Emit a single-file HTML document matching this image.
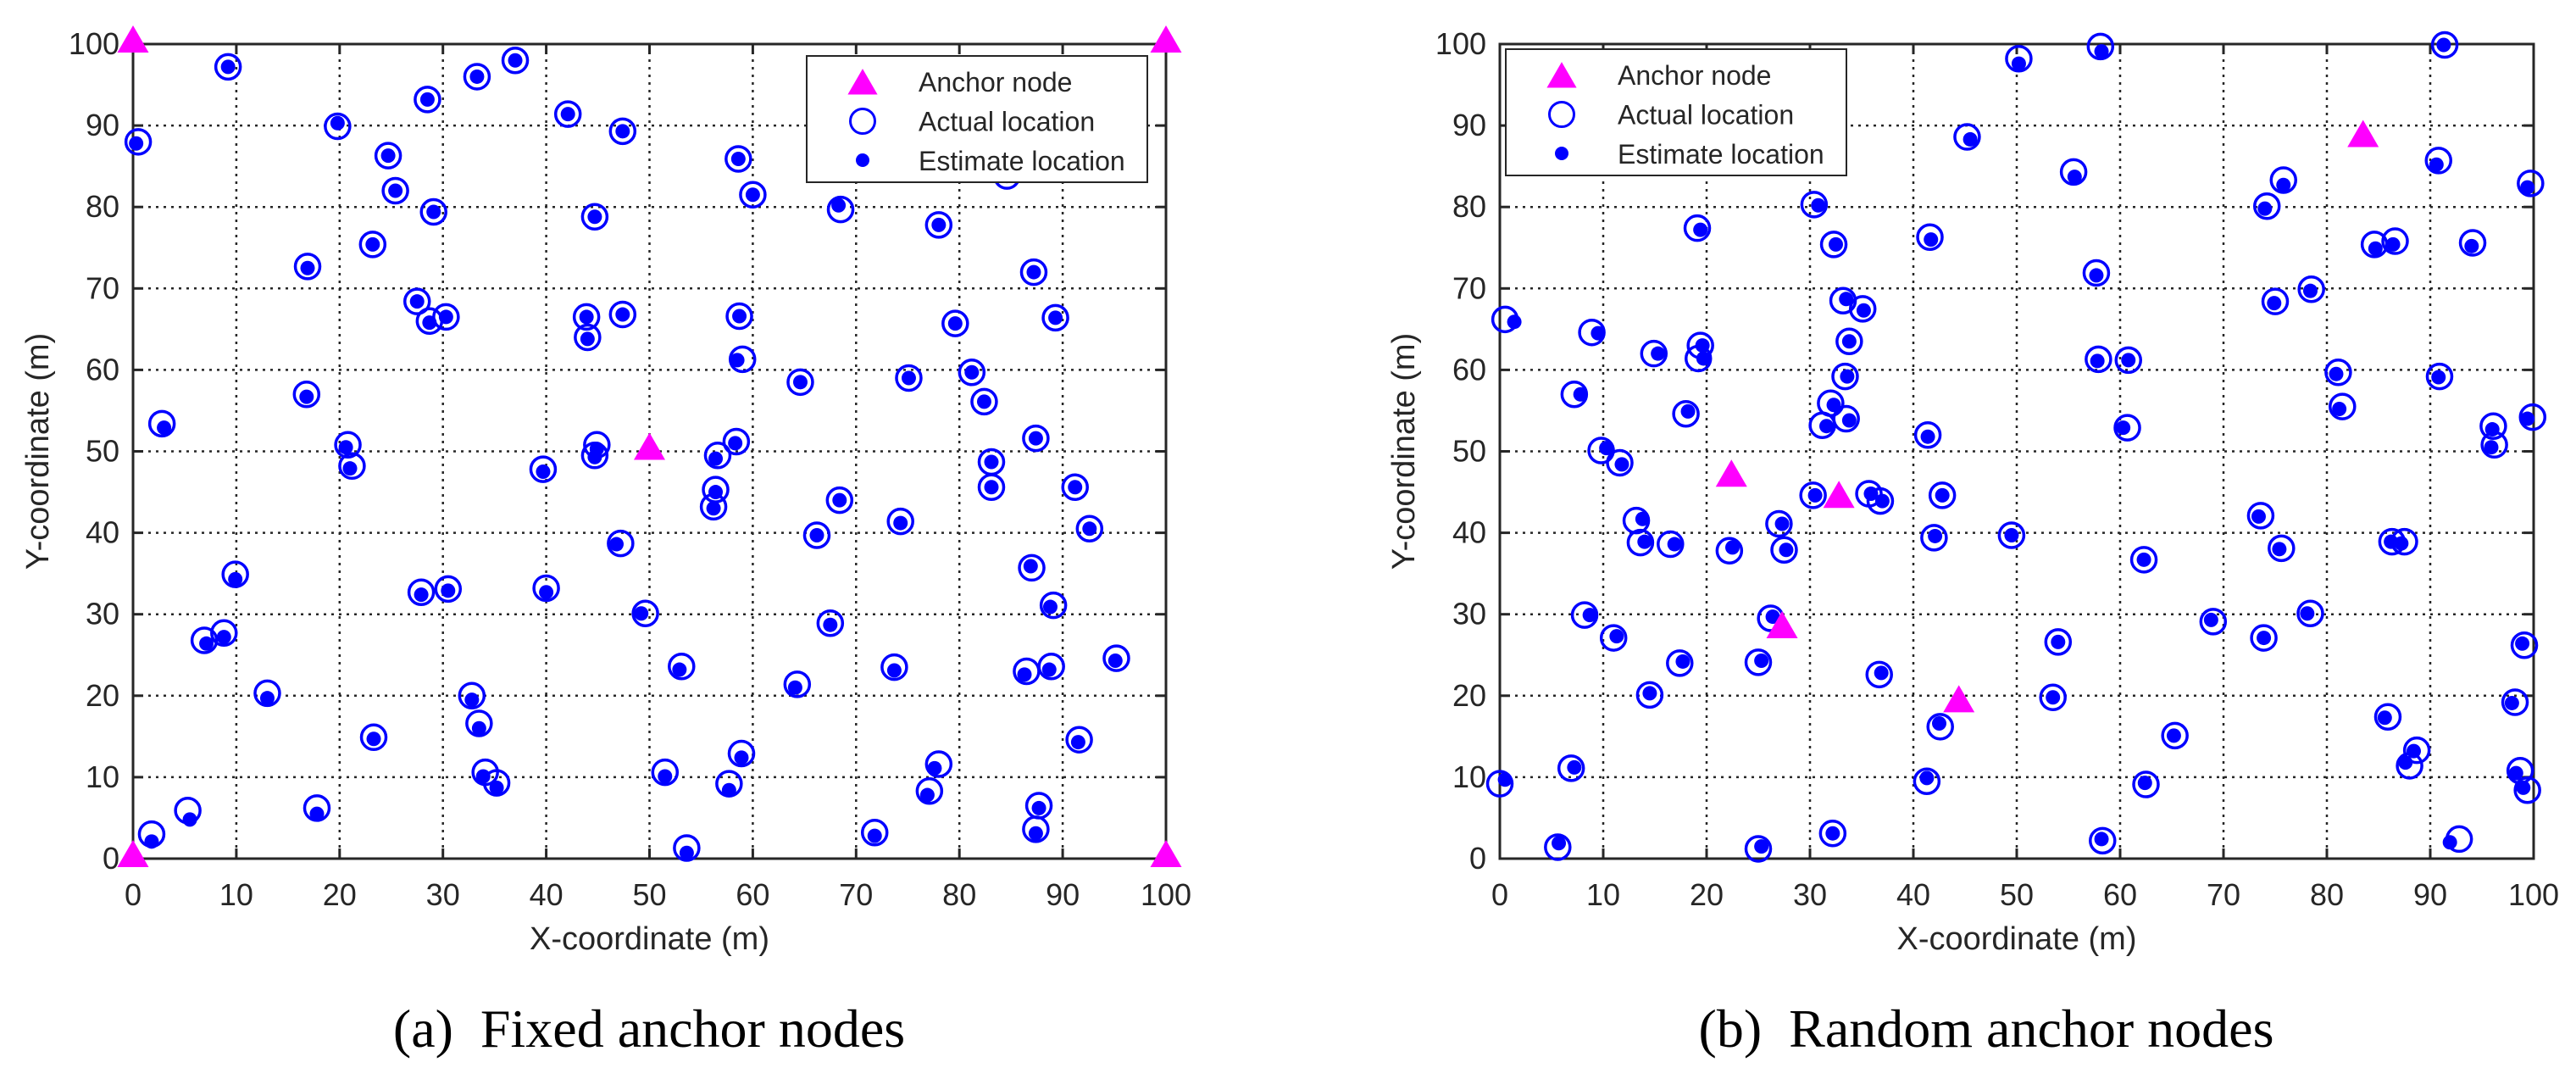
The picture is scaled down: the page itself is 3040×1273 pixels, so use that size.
<!DOCTYPE html>
<html><head><meta charset="utf-8"><style>
html,body{margin:0;padding:0;background:#fff;}
svg{display:block;}
text{font-family:"Liberation Sans",sans-serif;fill:#262626;}
.cap{font-family:"Liberation Serif",serif;fill:#000;}
</style></head><body>
<svg id="fig" width="3040" height="1273" viewBox="0 0 3040 1273" xmlns="http://www.w3.org/2000/svg"></svg>
<script>
// Panel (a) data
const aActualX=[0.5,9.2,19.8,24.7,25.4,23.2,16.9,28.5,33.3,37.0,42.1,47.4,29.1,44.7,27.5,28.7,30.3,43.9,44.0,47.4,16.8,2.8,20.8,21.2,44.9,44.7,39.7,58.6,60.0,68.5,78.0,87.2,89.3,79.6,58.7,59.0,64.6,75.1,81.2,82.4,87.4,83.1,83.1,91.2,92.6,56.6,58.4,56.4,56.2,68.4,66.2,74.3,47.2,9.9,27.9,30.5,40.0,49.6,67.5,87.0,89.1,8.8,6.9,13.0,23.3,32.8,33.5,34.1,35.2,17.8,5.3,1.8,53.1,64.3,51.5,58.9,57.7,53.6,71.8,73.7,78.0,77.1,86.5,88.9,87.7,87.4,91.6,95.2,84.6];
const aActualY=[88.0,97.2,89.9,86.3,82.0,75.4,72.7,93.2,96.0,98.0,91.4,89.3,79.4,78.8,68.4,66.0,66.5,66.5,64.0,66.8,57.0,53.4,50.8,48.2,50.8,49.5,47.8,85.9,81.5,79.7,77.8,72.0,66.4,65.7,66.6,61.3,58.5,59.0,59.7,56.1,51.6,48.7,45.6,45.6,40.5,49.5,51.2,45.3,43.2,44.0,39.7,41.4,38.7,34.9,32.7,33.1,33.2,30.1,28.9,35.7,31.1,27.7,26.8,20.3,14.9,20.0,16.6,10.6,9.3,6.2,5.9,3.0,23.6,21.4,10.6,12.9,9.2,1.3,3.2,23.5,11.6,8.3,23.0,23.6,6.5,3.6,14.6,24.6,83.8];
const aEstX=[0.3,9.2,19.8,24.7,25.4,23.2,16.9,28.5,33.3,37.0,42.1,47.4,29.1,44.7,27.5,28.7,30.3,43.9,44.0,47.4,16.8,3.0,20.6,21.0,44.9,44.7,39.7,58.6,60.0,68.3,78.0,87.2,89.3,79.6,58.7,58.5,64.6,75.1,81.2,82.4,87.4,83.1,83.1,91.2,92.6,56.4,58.3,56.4,56.2,68.4,66.2,74.3,46.8,9.9,27.9,30.5,40.0,49.2,67.5,86.9,88.8,8.8,7.1,13.0,23.3,32.8,33.5,33.9,35.2,17.8,5.5,1.8,52.9,64.1,51.5,58.9,57.7,53.6,71.8,73.7,77.6,76.9,86.3,88.7,87.7,87.4,91.5,95.1,84.6];
const aEstY=[87.8,97.2,90.3,86.3,82.0,75.4,72.5,93.2,96.0,98.0,91.4,89.3,79.4,78.8,68.4,65.8,66.5,66.5,63.8,66.8,56.7,52.9,50.5,47.9,50.3,49.3,47.5,85.9,81.5,80.2,77.8,72.0,66.4,65.7,66.6,61.2,58.5,59.0,59.7,56.1,51.6,48.7,45.6,45.6,40.5,49.1,51.0,45.0,43.0,44.0,39.7,41.2,38.6,34.3,32.4,32.9,32.7,30.1,28.7,35.9,30.9,27.2,26.4,19.7,14.7,19.5,16.0,10.1,8.7,5.5,4.8,2.1,23.2,21.0,10.1,12.4,8.4,0.7,2.8,23.1,11.1,7.8,22.6,23.2,6.2,3.1,14.3,24.3,83.8];
const aAnchorX=[0,100,0,100,50];
const aAnchorY=[100,100,0,0,50];
// Panel (b) data
const bActualX=[0.5,8.9,7.2,9.8,11.6,14.9,19.1,19.4,19.2,18.0,13.2,13.6,16.5,22.2,27.0,27.5,8.2,11.0,17.4,14.5,26.2,25.0,36.7,6.9,0.0,5.6,25.0,32.2,30.4,32.3,33.2,35.1,33.8,33.4,32.0,31.2,33.5,30.3,35.7,36.8,41.4,41.6,45.2,50.2,58.1,55.5,57.7,57.9,60.8,60.7,42.8,42.0,49.5,62.3,41.3,42.6,54.0,53.5,65.3,62.5,58.3,69.0,73.9,73.6,75.6,78.4,78.5,75.0,74.2,75.8,81.1,81.5,84.6,86.6,94.1,90.8,91.4,99.7,90.9,96.1,96.2,99.9,86.3,87.5,85.9,88.7,88.0,92.8,98.2,99.1,98.7,99.4];
const bActualY=[66.2,64.6,57.0,50.1,48.6,62.0,77.4,63.0,61.4,54.6,41.5,38.8,38.6,37.8,41.1,37.9,29.9,27.1,24.0,20.1,29.5,24.1,22.6,11.1,9.2,1.4,1.2,3.1,80.3,75.4,68.5,67.5,63.5,59.2,55.9,53.2,54.0,44.6,44.8,43.9,52.0,76.3,88.6,98.2,99.7,84.3,71.9,61.3,61.2,52.9,44.6,39.4,39.7,36.7,9.5,16.2,26.6,19.8,15.1,9.1,2.2,29.1,27.1,42.1,38.1,30.1,69.9,68.4,80.1,83.3,59.7,55.5,75.4,75.8,75.6,85.7,99.9,82.9,59.2,53.1,50.8,54.2,38.9,38.9,17.4,13.3,11.4,2.4,19.2,26.2,10.8,8.4];
const bEstX=[1.4,9.5,7.8,10.3,11.8,15.3,19.4,19.6,19.7,18.2,13.8,14.0,16.9,22.5,27.3,27.7,8.7,11.3,17.7,14.5,26.4,25.3,36.9,7.2,0.5,5.7,25.3,32.2,30.8,32.5,33.5,35.2,33.8,33.6,32.3,31.6,33.8,30.5,35.9,37.0,41.4,41.7,45.5,50.2,58.2,55.6,57.7,57.8,60.8,60.3,42.8,42.1,49.5,62.3,41.3,42.5,54.0,53.5,65.2,62.4,58.2,68.8,73.9,73.4,75.4,78.1,78.4,74.9,74.0,75.8,80.9,81.2,84.7,86.4,94.0,90.6,91.3,99.4,90.8,96.0,95.9,99.4,86.2,87.2,85.6,88.4,87.6,91.9,97.9,98.9,98.3,99.0];
const bEstY=[65.9,64.5,57.0,50.4,48.4,62.0,77.2,63.0,61.4,54.9,41.7,38.9,38.6,38.2,41.1,37.9,29.9,27.3,24.2,20.3,29.7,24.3,22.8,11.2,9.7,1.9,1.5,3.1,80.2,75.4,68.7,67.3,63.5,59.2,55.7,53.1,53.8,44.6,44.8,43.9,51.8,76.0,88.3,97.6,99.1,83.7,71.6,61.1,61.2,52.9,44.6,39.6,39.7,36.7,9.9,16.6,26.6,19.8,15.1,9.3,2.4,29.3,27.1,42.0,38.0,30.1,69.7,68.2,79.8,82.7,59.5,55.2,74.9,75.4,75.2,85.2,99.9,82.4,59.1,52.7,50.5,54.0,38.9,38.7,17.3,13.2,11.8,2.0,19.1,26.4,10.5,8.7];
const bAnchorX=[22.4,32.8,27.3,44.4,83.5];
const bAnchorY=[46.7,44.1,28.1,19.0,88.4];
const ticks=[0,10,20,30,40,50,60,70,80,90,100];

const NS='http://www.w3.org/2000/svg';
const svg=document.getElementById('fig');
function mk(tag,attrs,parent){const e=document.createElementNS(NS,tag);for(const k in attrs)e.setAttribute(k,attrs[k]);(parent||svg).appendChild(e);return e;}
function tri(g,cx,cy,s){return mk('polygon',{points:`${cx},${cy-22*s} ${cx-18.5*s},${cy+10*s} ${cx+18.5*s},${cy+10*s}`,fill:'#ff00ff'},g);}

function panel(id,L,R,T,B,AX,AY,EX,EY,NX,NY,leg,cap,capX,ylabX){
  const g=mk('g',{});
  
  
  const sx=v=>L+(R-L)*v/100, sy=v=>B-(B-T)*v/100;
  // grid
  const grid=mk('g',{},g);
  
  
  ticks.forEach(t=>{
    if(t>0&&t<100){
      mk('line',{x1:sx(t),x2:sx(t),y1:T,y2:B,stroke:'#262626','stroke-width':2.5,'stroke-dasharray':'3 6'},grid);
      mk('line',{x1:L,x2:R,y1:sy(t),y2:sy(t),stroke:'#262626','stroke-width':2.5,'stroke-dasharray':'3 6'},grid);
    }
    mk('line',{x1:sx(t),x2:sx(t),y1:B,y2:B-12,stroke:'#262626','stroke-width':3},grid);
    mk('line',{x1:sx(t),x2:sx(t),y1:T,y2:T+12,stroke:'#262626','stroke-width':3},grid);
    mk('line',{x1:L,x2:L+12,y1:sy(t),y2:sy(t),stroke:'#262626','stroke-width':3},grid);
    mk('line',{x1:R,x2:R-12,y1:sy(t),y2:sy(t),stroke:'#262626','stroke-width':3},grid);
    const xt=mk('text',{x:sx(t),y:1068,'font-size':36,'text-anchor':'middle'},g);
    xt.textContent=t;
    
    
    const yt=mk('text',{x:L-16,y:sy(t)+12,'font-size':36,'text-anchor':'end'},g);
    yt.textContent=t;
    
    
  });
  const box=mk('rect',{x:L,y:T,width:R-L,height:B-T,fill:'none',stroke:'#262626','stroke-width':3},g);
  
  
  // actual
  for(let i=0;i<AX.length;i++){
    const c=mk('circle',{cx:sx(AX[i]),cy:sy(AY[i]),r:14.5,fill:'none',stroke:'#0000ff','stroke-width':3.5},g);
    
    
  }
  for(let i=0;i<EX.length;i++){
    const c=mk('circle',{cx:sx(EX[i]),cy:sy(EY[i]),r:8.5,fill:'#0000ff'},g);
    
    
  }
  for(let i=0;i<NX.length;i++){
    const p=tri(g,sx(NX[i]),sy(NY[i]),1);
    
    
  }
  // legend
  const lg=mk('g',{},g);
  
  
  mk('rect',{x:leg[0],y:leg[1],width:402,height:149,fill:'#fff',stroke:'#262626','stroke-width':2},lg);
  const mx=leg[0]+66, tx=leg[0]+132;
  tri(lg,mx,leg[1]+36,0.95);
  mk('circle',{cx:mx,cy:leg[1]+77,r:14.5,fill:'none',stroke:'#0000ff','stroke-width':3},lg);
  mk('circle',{cx:mx,cy:leg[1]+123,r:8,fill:'#0000ff'},lg);
  ['Anchor node','Actual location','Estimate location'].forEach((s,i)=>{
    const t=mk('text',{x:tx,y:leg[1]+42+i*46.5,'font-size':32},lg);
    t.textContent=s;
    
    
  });
  const xl=mk('text',{x:(L+R)/2,y:1120,'font-size':38,'text-anchor':'middle'},g);
  xl.textContent='X-coordinate (m)';
  
  
  const yl=mk('text',{x:ylabX,y:(T+B)/2,'font-size':38,'text-anchor':'middle',transform:`rotate(-90 ${ylabX} ${(T+B)/2})`,dy:13},g);
  yl.textContent='Y-coordinate (m)';
  
  
  const c=mk('text',{x:capX,y:1235,'font-size':64,'text-anchor':'middle',class:'cap'},g);
  c.textContent=cap;
  
  
}
panel('fixed-anchor',157,1376,52,1013,aActualX,aActualY,aEstX,aEstY,aAnchorX,aAnchorY,[952,66],'(a)\u2002Fixed anchor nodes',766,44);
panel('random-anchor',1770,2990,52,1013,bActualX,bActualY,bEstX,bEstY,bAnchorX,bAnchorY,[1777,58],'(b)\u2002Random anchor nodes',2344,1656);
</script>
</body></html>
